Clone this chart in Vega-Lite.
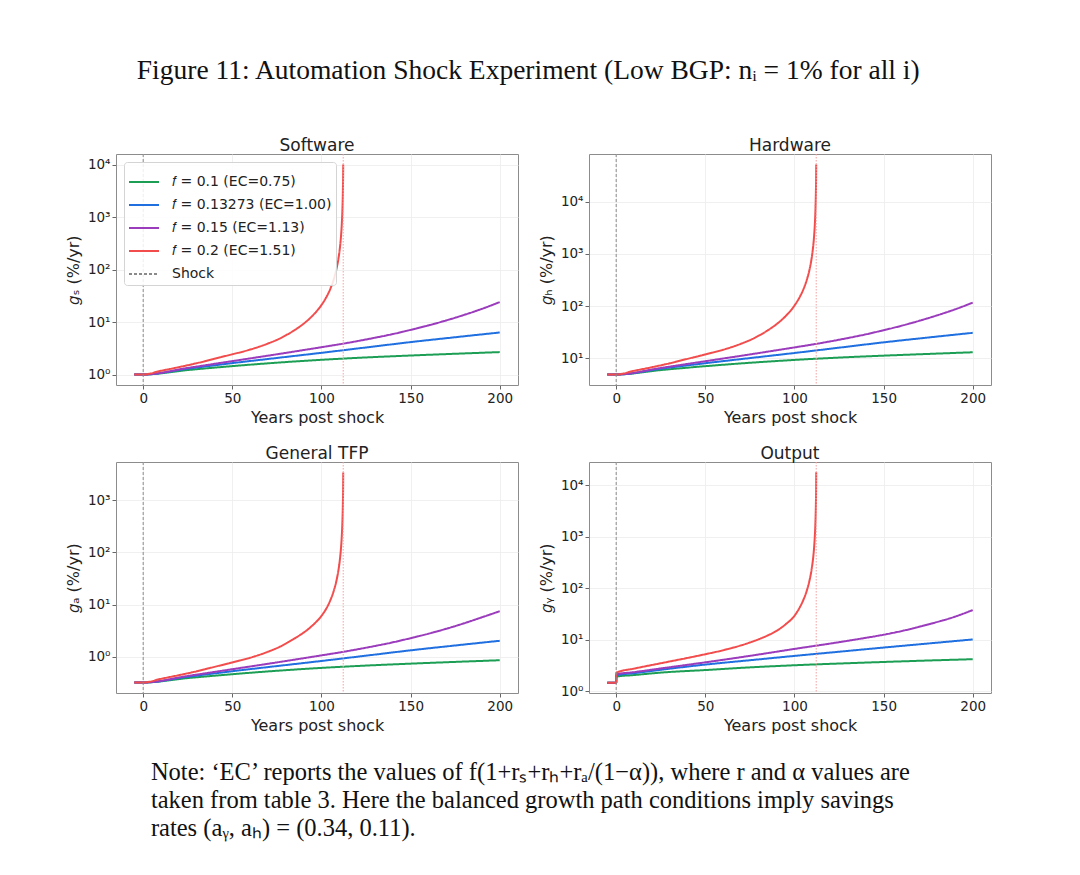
{
  "$schema": "https://vega.github.io/schema/vega-lite/v6.json",
  "padding": {"left": 64, "top": 56, "right": 5, "bottom": 5},
  "title": {"text": "Figure 11: Automation Shock Experiment (Low BGP: nᵢ = 1% for all i)", "font": "Liberation Serif", "fontSize": 27.5, "fontWeight": "normal", "color": "#111111", "anchor": "middle", "offset": 52},
  "datasets": {
    "rules": [{"s": "Shock", "x": 0}, {"s": "Blowup", "x": 112.2}],
    "curves": [
      {"p":"S","s":"a","x":-5,"y":1},{"p":"S","s":"a","x":0,"y":1},{"p":"S","s":"a","x":25,"y":1.216},{"p":"S","s":"a","x":50,"y":1.445},{"p":"S","s":"a","x":75,"y":1.679},{"p":"S","s":"a","x":100,"y":1.905},{"p":"S","s":"a","x":125,"y":2.113},{"p":"S","s":"a","x":150,"y":2.301},{"p":"S","s":"a","x":175,"y":2.483},{"p":"S","s":"a","x":200,"y":2.673},
      {"p":"S","s":"b","x":-5,"y":1},{"p":"S","s":"b","x":0,"y":1},{"p":"S","s":"b","x":25,"y":1.288},{"p":"S","s":"b","x":50,"y":1.648},{"p":"S","s":"b","x":75,"y":2.065},{"p":"S","s":"b","x":100,"y":2.588},{"p":"S","s":"b","x":125,"y":3.273},{"p":"S","s":"b","x":150,"y":4.14},{"p":"S","s":"b","x":175,"y":5.129},{"p":"S","s":"b","x":200,"y":6.31},
      {"p":"S","s":"c","x":-5,"y":1},{"p":"S","s":"c","x":0,"y":1},{"p":"S","s":"c","x":25,"y":1.334},{"p":"S","s":"c","x":50,"y":1.799},{"p":"S","s":"c","x":75,"y":2.427},{"p":"S","s":"c","x":100,"y":3.311},{"p":"S","s":"c","x":110,"y":3.758},{"p":"S","s":"c","x":120,"y":4.315},{"p":"S","s":"c","x":130,"y":5.012},{"p":"S","s":"c","x":140,"y":5.888},{"p":"S","s":"c","x":150,"y":7.079},{"p":"S","s":"c","x":160,"y":8.61},{"p":"S","s":"c","x":170,"y":10.72},{"p":"S","s":"c","x":180,"y":13.65},{"p":"S","s":"c","x":190,"y":17.78},{"p":"S","s":"c","x":200,"y":23.93},
      {"p":"S","s":"d","x":-5,"y":1},{"p":"S","s":"d","x":0,"y":1},{"p":"S","s":"d","x":10,"y":1.175},{"p":"S","s":"d","x":20,"y":1.38},{"p":"S","s":"d","x":30,"y":1.641},{"p":"S","s":"d","x":40,"y":1.995},{"p":"S","s":"d","x":50,"y":2.427},{"p":"S","s":"d","x":60,"y":2.985},{"p":"S","s":"d","x":70,"y":3.89},{"p":"S","s":"d","x":76.3,"y":4.786},{"p":"S","s":"d","x":80,"y":5.572},{"p":"S","s":"d","x":85,"y":7.031},{"p":"S","s":"d","x":90,"y":9.29},{"p":"S","s":"d","x":95,"y":13.18},{"p":"S","s":"d","x":100,"y":21.04},{"p":"S","s":"d","x":103,"y":30.9},{"p":"S","s":"d","x":105,"y":43.05},{"p":"S","s":"d","x":107,"y":66.83},{"p":"S","s":"d","x":108.5,"y":105.2},{"p":"S","s":"d","x":109.5,"y":159.2},{"p":"S","s":"d","x":110.3,"y":251.2},{"p":"S","s":"d","x":110.9,"y":404.6},{"p":"S","s":"d","x":111.4,"y":724.4},{"p":"S","s":"d","x":111.7,"y":1225},{"p":"S","s":"d","x":111.9,"y":2032},{"p":"S","s":"d","x":112.05,"y":3548},{"p":"S","s":"d","x":112.15,"y":6166},{"p":"S","s":"d","x":112.2,"y":10000},
      {"p":"H","s":"a","x":-5,"y":4.85},{"p":"H","s":"a","x":0,"y":4.85},{"p":"H","s":"a","x":25,"y":5.9},{"p":"H","s":"a","x":50,"y":7.01},{"p":"H","s":"a","x":75,"y":8.14},{"p":"H","s":"a","x":100,"y":9.24},{"p":"H","s":"a","x":125,"y":10.25},{"p":"H","s":"a","x":150,"y":11.16},{"p":"H","s":"a","x":175,"y":12.04},{"p":"H","s":"a","x":200,"y":12.96},
      {"p":"H","s":"b","x":-5,"y":4.85},{"p":"H","s":"b","x":0,"y":4.85},{"p":"H","s":"b","x":25,"y":6.25},{"p":"H","s":"b","x":50,"y":7.99},{"p":"H","s":"b","x":75,"y":10.02},{"p":"H","s":"b","x":100,"y":12.55},{"p":"H","s":"b","x":125,"y":15.87},{"p":"H","s":"b","x":150,"y":20.08},{"p":"H","s":"b","x":175,"y":24.88},{"p":"H","s":"b","x":200,"y":30.6},
      {"p":"H","s":"c","x":-5,"y":4.85},{"p":"H","s":"c","x":0,"y":4.85},{"p":"H","s":"c","x":25,"y":6.47},{"p":"H","s":"c","x":50,"y":8.73},{"p":"H","s":"c","x":75,"y":11.77},{"p":"H","s":"c","x":100,"y":16.06},{"p":"H","s":"c","x":110,"y":18.23},{"p":"H","s":"c","x":120,"y":20.93},{"p":"H","s":"c","x":130,"y":24.31},{"p":"H","s":"c","x":140,"y":28.56},{"p":"H","s":"c","x":150,"y":34.33},{"p":"H","s":"c","x":160,"y":41.76},{"p":"H","s":"c","x":170,"y":52.0},{"p":"H","s":"c","x":180,"y":66.2},{"p":"H","s":"c","x":190,"y":86.2},{"p":"H","s":"c","x":200,"y":116.1},
      {"p":"H","s":"d","x":-5,"y":4.85},{"p":"H","s":"d","x":0,"y":4.85},{"p":"H","s":"d","x":10,"y":5.7},{"p":"H","s":"d","x":20,"y":6.69},{"p":"H","s":"d","x":30,"y":7.96},{"p":"H","s":"d","x":40,"y":9.68},{"p":"H","s":"d","x":50,"y":11.77},{"p":"H","s":"d","x":60,"y":14.48},{"p":"H","s":"d","x":70,"y":18.87},{"p":"H","s":"d","x":76.3,"y":23.21},{"p":"H","s":"d","x":80,"y":27.02},{"p":"H","s":"d","x":85,"y":34.1},{"p":"H","s":"d","x":90,"y":45.06},{"p":"H","s":"d","x":95,"y":63.9},{"p":"H","s":"d","x":100,"y":102},{"p":"H","s":"d","x":103,"y":149.9},{"p":"H","s":"d","x":105,"y":208.8},{"p":"H","s":"d","x":107,"y":324.1},{"p":"H","s":"d","x":108.5,"y":510.2},{"p":"H","s":"d","x":109.5,"y":772.1},{"p":"H","s":"d","x":110.3,"y":1218},{"p":"H","s":"d","x":110.9,"y":1962},{"p":"H","s":"d","x":111.4,"y":3513},{"p":"H","s":"d","x":111.7,"y":5941},{"p":"H","s":"d","x":111.9,"y":9855},{"p":"H","s":"d","x":112.05,"y":17210},{"p":"H","s":"d","x":112.15,"y":29900},{"p":"H","s":"d","x":112.2,"y":52000},
      {"p":"A","s":"a","x":-5,"y":0.32},{"p":"A","s":"a","x":0,"y":0.32},{"p":"A","s":"a","x":25,"y":0.389},{"p":"A","s":"a","x":50,"y":0.462},{"p":"A","s":"a","x":75,"y":0.537},{"p":"A","s":"a","x":100,"y":0.61},{"p":"A","s":"a","x":125,"y":0.676},{"p":"A","s":"a","x":150,"y":0.736},{"p":"A","s":"a","x":175,"y":0.795},{"p":"A","s":"a","x":200,"y":0.855},
      {"p":"A","s":"b","x":-5,"y":0.32},{"p":"A","s":"b","x":0,"y":0.32},{"p":"A","s":"b","x":25,"y":0.412},{"p":"A","s":"b","x":50,"y":0.527},{"p":"A","s":"b","x":75,"y":0.661},{"p":"A","s":"b","x":100,"y":0.828},{"p":"A","s":"b","x":125,"y":1.047},{"p":"A","s":"b","x":150,"y":1.325},{"p":"A","s":"b","x":175,"y":1.641},{"p":"A","s":"b","x":200,"y":2.019},
      {"p":"A","s":"c","x":-5,"y":0.32},{"p":"A","s":"c","x":0,"y":0.32},{"p":"A","s":"c","x":25,"y":0.427},{"p":"A","s":"c","x":50,"y":0.576},{"p":"A","s":"c","x":75,"y":0.777},{"p":"A","s":"c","x":100,"y":1.06},{"p":"A","s":"c","x":110,"y":1.203},{"p":"A","s":"c","x":120,"y":1.381},{"p":"A","s":"c","x":130,"y":1.604},{"p":"A","s":"c","x":140,"y":1.884},{"p":"A","s":"c","x":150,"y":2.265},{"p":"A","s":"c","x":160,"y":2.755},{"p":"A","s":"c","x":170,"y":3.43},{"p":"A","s":"c","x":180,"y":4.368},{"p":"A","s":"c","x":190,"y":5.69},{"p":"A","s":"c","x":200,"y":7.45},
      {"p":"A","s":"d","x":-5,"y":0.32},{"p":"A","s":"d","x":0,"y":0.32},{"p":"A","s":"d","x":10,"y":0.376},{"p":"A","s":"d","x":20,"y":0.442},{"p":"A","s":"d","x":30,"y":0.525},{"p":"A","s":"d","x":40,"y":0.638},{"p":"A","s":"d","x":50,"y":0.777},{"p":"A","s":"d","x":60,"y":0.955},{"p":"A","s":"d","x":70,"y":1.245},{"p":"A","s":"d","x":76.3,"y":1.532},{"p":"A","s":"d","x":80,"y":1.783},{"p":"A","s":"d","x":85,"y":2.25},{"p":"A","s":"d","x":90,"y":2.9},{"p":"A","s":"d","x":95,"y":3.98},{"p":"A","s":"d","x":100,"y":6.07},{"p":"A","s":"d","x":103,"y":8.71},{"p":"A","s":"d","x":105,"y":12.1},{"p":"A","s":"d","x":107,"y":18.8},{"p":"A","s":"d","x":108.5,"y":29.6},{"p":"A","s":"d","x":109.5,"y":44.9},{"p":"A","s":"d","x":110.3,"y":70.8},{"p":"A","s":"d","x":110.9,"y":114},{"p":"A","s":"d","x":111.4,"y":204},{"p":"A","s":"d","x":111.7,"y":345},{"p":"A","s":"d","x":111.9,"y":573},{"p":"A","s":"d","x":112.05,"y":1000},{"p":"A","s":"d","x":112.15,"y":1738},{"p":"A","s":"d","x":112.2,"y":3400},
      {"p":"Y","s":"a","x":-5,"y":1.48},{"p":"Y","s":"a","x":0,"y":1.48},{"p":"Y","s":"a","x":0.1,"y":1.94},{"p":"Y","s":"a","x":10,"y":2.08},{"p":"Y","s":"a","x":25,"y":2.32},{"p":"Y","s":"a","x":50,"y":2.6},{"p":"Y","s":"a","x":75,"y":2.93},{"p":"Y","s":"a","x":100,"y":3.22},{"p":"Y","s":"a","x":125,"y":3.48},{"p":"Y","s":"a","x":150,"y":3.73},{"p":"Y","s":"a","x":175,"y":3.98},{"p":"Y","s":"a","x":200,"y":4.22},
      {"p":"Y","s":"b","x":-5,"y":1.48},{"p":"Y","s":"b","x":0,"y":1.48},{"p":"Y","s":"b","x":0.1,"y":2.05},{"p":"Y","s":"b","x":10,"y":2.26},{"p":"Y","s":"b","x":25,"y":2.63},{"p":"Y","s":"b","x":50,"y":3.32},{"p":"Y","s":"b","x":75,"y":4.03},{"p":"Y","s":"b","x":100,"y":4.89},{"p":"Y","s":"b","x":125,"y":5.89},{"p":"Y","s":"b","x":150,"y":7.1},{"p":"Y","s":"b","x":175,"y":8.51},{"p":"Y","s":"b","x":200,"y":10.2},
      {"p":"Y","s":"c","x":-5,"y":1.48},{"p":"Y","s":"c","x":0,"y":1.48},{"p":"Y","s":"c","x":0.1,"y":2.15},{"p":"Y","s":"c","x":10,"y":2.37},{"p":"Y","s":"c","x":25,"y":2.79},{"p":"Y","s":"c","x":50,"y":3.67},{"p":"Y","s":"c","x":75,"y":4.9},{"p":"Y","s":"c","x":100,"y":6.68},{"p":"Y","s":"c","x":125,"y":9.02},{"p":"Y","s":"c","x":140,"y":10.96},{"p":"Y","s":"c","x":150,"y":12.59},{"p":"Y","s":"c","x":162.5,"y":15.49},{"p":"Y","s":"c","x":175,"y":19.95},{"p":"Y","s":"c","x":190,"y":28.18},{"p":"Y","s":"c","x":200,"y":37.84},
      {"p":"Y","s":"d","x":-5,"y":1.48},{"p":"Y","s":"d","x":0,"y":1.48},{"p":"Y","s":"d","x":0.1,"y":2.32},{"p":"Y","s":"d","x":10,"y":2.77},{"p":"Y","s":"d","x":25,"y":3.52},{"p":"Y","s":"d","x":50,"y":5.27},{"p":"Y","s":"d","x":60,"y":6.3},{"p":"Y","s":"d","x":75,"y":8.9},{"p":"Y","s":"d","x":80,"y":10.3},{"p":"Y","s":"d","x":85,"y":12.2},{"p":"Y","s":"d","x":90,"y":15},{"p":"Y","s":"d","x":95,"y":20},{"p":"Y","s":"d","x":100,"y":29.3},{"p":"Y","s":"d","x":103,"y":42.9},{"p":"Y","s":"d","x":105,"y":59.7},{"p":"Y","s":"d","x":107,"y":92.2},{"p":"Y","s":"d","x":108.5,"y":144.7},{"p":"Y","s":"d","x":109.5,"y":218.4},{"p":"Y","s":"d","x":110.3,"y":343},{"p":"Y","s":"d","x":110.9,"y":551},{"p":"Y","s":"d","x":111.4,"y":984},{"p":"Y","s":"d","x":111.7,"y":1656},{"p":"Y","s":"d","x":111.9,"y":2741},{"p":"Y","s":"d","x":112.05,"y":4775},{"p":"Y","s":"d","x":112.15,"y":8318},{"p":"Y","s":"d","x":112.2,"y":17800}
    ]
  },
  "spacing": 18,
  "resolve": {"scale": {"color": "independent", "strokeDash": "independent"}, "legend": {"color": "independent", "strokeDash": "independent"}},
  "vconcat": [
    {
      "spacing": 18,
      "resolve": {"scale": {"color": "independent", "strokeDash": "independent"}, "legend": {"color": "independent", "strokeDash": "independent"}},
      "hconcat": [
        {
          "title": "Software", "width": 402, "height": 231,
          "layer": [
            {"data": {"name": "curves"}, "transform": [{"filter": "datum.p == 'S'"}],
             "mark": {"type": "line", "strokeWidth": 2, "clip": true, "interpolate": "monotone"},
             "encoding": {
               "x": {"field": "x", "type": "quantitative", "scale": {"domain": [-15.25, 210.25], "nice": false, "zero": false}, "axis": {"values": [0, 50, 100, 150, 200], "title": "Years post shock"}},
               "y": {"field": "y", "type": "quantitative", "scale": {"type": "log", "domain": [0.631, 15849], "nice": false}, "axis": {"values": [1, 10, 100, 1000, 10000], "title": "𝑔ₛ (%/yr)", "labelExpr": "'10' + ['⁰','¹','²','³','⁴'][round(log(datum.value)/LN10)]"}},
               "color": {"field": "s", "type": "nominal", "scale": {"domain": ["a", "b", "c", "d", "Shock"], "range": ["#1c9e55", "#1f6fe0", "#9b3cbc", "#f24c4c", "#8a8a8a"]},
                 "legend": {"title": null, "labelExpr": "datum.label == 'a' ? '𝑓 = 0.1 (EC=0.75)' : datum.label == 'b' ? '𝑓 = 0.13273 (EC=1.00)' : datum.label == 'c' ? '𝑓 = 0.15 (EC=1.13)' : datum.label == 'd' ? '𝑓 = 0.2 (EC=1.51)' : 'Shock'"}},
               "strokeDash": {"field": "s", "type": "nominal", "scale": {"domain": ["a", "b", "c", "d", "Shock"], "range": [[1, 0], [1, 0], [1, 0], [1, 0], [3, 2]]},
                 "legend": {"title": null, "labelExpr": "datum.label == 'a' ? '𝑓 = 0.1 (EC=0.75)' : datum.label == 'b' ? '𝑓 = 0.13273 (EC=1.00)' : datum.label == 'c' ? '𝑓 = 0.15 (EC=1.13)' : datum.label == 'd' ? '𝑓 = 0.2 (EC=1.51)' : 'Shock'"}}
             }},
            {"data": {"name": "rules"}, "transform": [{"filter": "datum.s == 'Shock'"}],
             "mark": {"type": "rule", "strokeWidth": 1},
             "encoding": {"x": {"field": "x", "type": "quantitative"}, "color": {"field": "s", "type": "nominal"}, "strokeDash": {"field": "s", "type": "nominal"}}},
            {"data": {"name": "rules"}, "transform": [{"filter": "datum.s == 'Blowup'"}],
             "mark": {"type": "rule", "strokeWidth": 1, "color": "#f6a0a0", "strokeDash": [1.5, 1.5]},
             "encoding": {"x": {"field": "x", "type": "quantitative"}}}
          ]
        },
        {
          "title": "Hardware", "width": 402, "height": 231,
          "layer": [
            {"data": {"name": "curves"}, "transform": [{"filter": "datum.p == 'H'"}],
             "mark": {"type": "line", "strokeWidth": 2, "clip": true, "interpolate": "monotone"},
             "encoding": {
               "x": {"field": "x", "type": "quantitative", "scale": {"domain": [-15.25, 210.25], "nice": false, "zero": false}, "axis": {"values": [0, 50, 100, 150, 200], "title": "Years post shock"}},
               "y": {"field": "y", "type": "quantitative", "scale": {"type": "log", "domain": [3.05, 82800], "nice": false}, "axis": {"values": [10, 100, 1000, 10000], "title": "𝑔ₕ (%/yr)", "labelExpr": "'10' + ['⁰','¹','²','³','⁴'][round(log(datum.value)/LN10)]"}},
               "color": {"field": "s", "type": "nominal", "scale": {"domain": ["a", "b", "c", "d", "Shock"], "range": ["#1c9e55", "#1f6fe0", "#9b3cbc", "#f24c4c", "#8a8a8a"]}, "legend": null},
               "strokeDash": {"field": "s", "type": "nominal", "scale": {"domain": ["a", "b", "c", "d", "Shock"], "range": [[1, 0], [1, 0], [1, 0], [1, 0], [3, 2]]}, "legend": null}
             }},
            {"data": {"name": "rules"}, "transform": [{"filter": "datum.s == 'Shock'"}],
             "mark": {"type": "rule", "strokeWidth": 1},
             "encoding": {"x": {"field": "x", "type": "quantitative"}, "color": {"field": "s", "type": "nominal"}, "strokeDash": {"field": "s", "type": "nominal"}}},
            {"data": {"name": "rules"}, "transform": [{"filter": "datum.s == 'Blowup'"}],
             "mark": {"type": "rule", "strokeWidth": 1, "color": "#f6a0a0", "strokeDash": [1.5, 1.5]},
             "encoding": {"x": {"field": "x", "type": "quantitative"}}}
          ]
        }
      ]
    },
    {
      "spacing": 18,
      "resolve": {"scale": {"color": "independent", "strokeDash": "independent"}, "legend": {"color": "independent", "strokeDash": "independent"}},
      "title": {"text": ["Note: ‘EC’ reports the values of f(1+rₛ+rₕ+rₐ/(1−α)), where r and α values are", "taken from table 3. Here the balanced growth path conditions imply savings", "rates (aᵧ, aₕ) = (0.34, 0.11)."], "orient": "bottom", "anchor": "start", "font": "Liberation Serif", "fontSize": 24.5, "fontWeight": "normal", "color": "#111111", "lineHeight": 28, "offset": 27, "dx": 86},
      "hconcat": [
        {
          "title": "General TFP", "width": 402, "height": 231,
          "layer": [
            {"data": {"name": "curves"}, "transform": [{"filter": "datum.p == 'A'"}],
             "mark": {"type": "line", "strokeWidth": 2, "clip": true, "interpolate": "monotone"},
             "encoding": {
               "x": {"field": "x", "type": "quantitative", "scale": {"domain": [-15.25, 210.25], "nice": false, "zero": false}, "axis": {"values": [0, 50, 100, 150, 200], "title": "Years post shock"}},
               "y": {"field": "y", "type": "quantitative", "scale": {"type": "log", "domain": [0.2014, 5404], "nice": false}, "axis": {"values": [1, 10, 100, 1000], "title": "𝑔ₐ (%/yr)", "labelExpr": "'10' + ['⁰','¹','²','³','⁴'][round(log(datum.value)/LN10)]"}},
               "color": {"field": "s", "type": "nominal", "scale": {"domain": ["a", "b", "c", "d", "Shock"], "range": ["#1c9e55", "#1f6fe0", "#9b3cbc", "#f24c4c", "#8a8a8a"]}, "legend": null},
               "strokeDash": {"field": "s", "type": "nominal", "scale": {"domain": ["a", "b", "c", "d", "Shock"], "range": [[1, 0], [1, 0], [1, 0], [1, 0], [3, 2]]}, "legend": null}
             }},
            {"data": {"name": "rules"}, "transform": [{"filter": "datum.s == 'Shock'"}],
             "mark": {"type": "rule", "strokeWidth": 1},
             "encoding": {"x": {"field": "x", "type": "quantitative"}, "color": {"field": "s", "type": "nominal"}, "strokeDash": {"field": "s", "type": "nominal"}}},
            {"data": {"name": "rules"}, "transform": [{"filter": "datum.s == 'Blowup'"}],
             "mark": {"type": "rule", "strokeWidth": 1, "color": "#f6a0a0", "strokeDash": [1.5, 1.5]},
             "encoding": {"x": {"field": "x", "type": "quantitative"}}}
          ]
        },
        {
          "title": "Output", "width": 402, "height": 231,
          "layer": [
            {"data": {"name": "curves"}, "transform": [{"filter": "datum.p == 'Y'"}],
             "mark": {"type": "line", "strokeWidth": 2, "clip": true, "interpolate": "monotone"},
             "encoding": {
               "x": {"field": "x", "type": "quantitative", "scale": {"domain": [-15.25, 210.25], "nice": false, "zero": false}, "axis": {"values": [0, 50, 100, 150, 200], "title": "Years post shock"}},
               "y": {"field": "y", "type": "quantitative", "scale": {"type": "log", "domain": [0.933, 28184], "nice": false}, "axis": {"values": [1, 10, 100, 1000, 10000], "title": "𝑔ᵧ (%/yr)", "labelExpr": "'10' + ['⁰','¹','²','³','⁴'][round(log(datum.value)/LN10)]"}},
               "color": {"field": "s", "type": "nominal", "scale": {"domain": ["a", "b", "c", "d", "Shock"], "range": ["#1c9e55", "#1f6fe0", "#9b3cbc", "#f24c4c", "#8a8a8a"]}, "legend": null},
               "strokeDash": {"field": "s", "type": "nominal", "scale": {"domain": ["a", "b", "c", "d", "Shock"], "range": [[1, 0], [1, 0], [1, 0], [1, 0], [3, 2]]}, "legend": null}
             }},
            {"data": {"name": "rules"}, "transform": [{"filter": "datum.s == 'Shock'"}],
             "mark": {"type": "rule", "strokeWidth": 1},
             "encoding": {"x": {"field": "x", "type": "quantitative"}, "color": {"field": "s", "type": "nominal"}, "strokeDash": {"field": "s", "type": "nominal"}}},
            {"data": {"name": "rules"}, "transform": [{"filter": "datum.s == 'Blowup'"}],
             "mark": {"type": "rule", "strokeWidth": 1, "color": "#f6a0a0", "strokeDash": [1.5, 1.5]},
             "encoding": {"x": {"field": "x", "type": "quantitative"}}}
          ]
        }
      ]
    }
  ],
  "config": {
    "font": "DejaVu Sans",
    "view": {"stroke": "#8c8c8c", "strokeWidth": 1},
    "axis": {"domain": false, "grid": true, "gridColor": "#ececec", "gridWidth": 0.8, "tickColor": "#666666", "tickSize": 4, "labelFontSize": 13.5, "labelColor": "#222222", "labelPadding": 2, "titleFontSize": 16, "titleFontWeight": "normal", "titleColor": "#222222", "labelFont": "DejaVu Sans", "titleFont": "DejaVu Sans"},
    "axisX": {"titlePadding": 5},
    "axisY": {"titlePadding": 6},
    "title": {"fontSize": 17, "fontWeight": "normal", "font": "DejaVu Sans", "color": "#222222", "offset": -1},
    "legend": {"orient": "top-left", "offset": 8, "strokeColor": "#d4d4d4", "fillColor": "rgba(255,255,255,0.85)", "cornerRadius": 3, "padding": 4, "symbolType": "stroke", "symbolSize": 900, "symbolStrokeWidth": 2, "labelFontSize": 14, "labelFont": "DejaVu Sans", "labelColor": "#222222", "rowPadding": 0, "labelOffset": 12, "labelLimit": 300}
  }
}
